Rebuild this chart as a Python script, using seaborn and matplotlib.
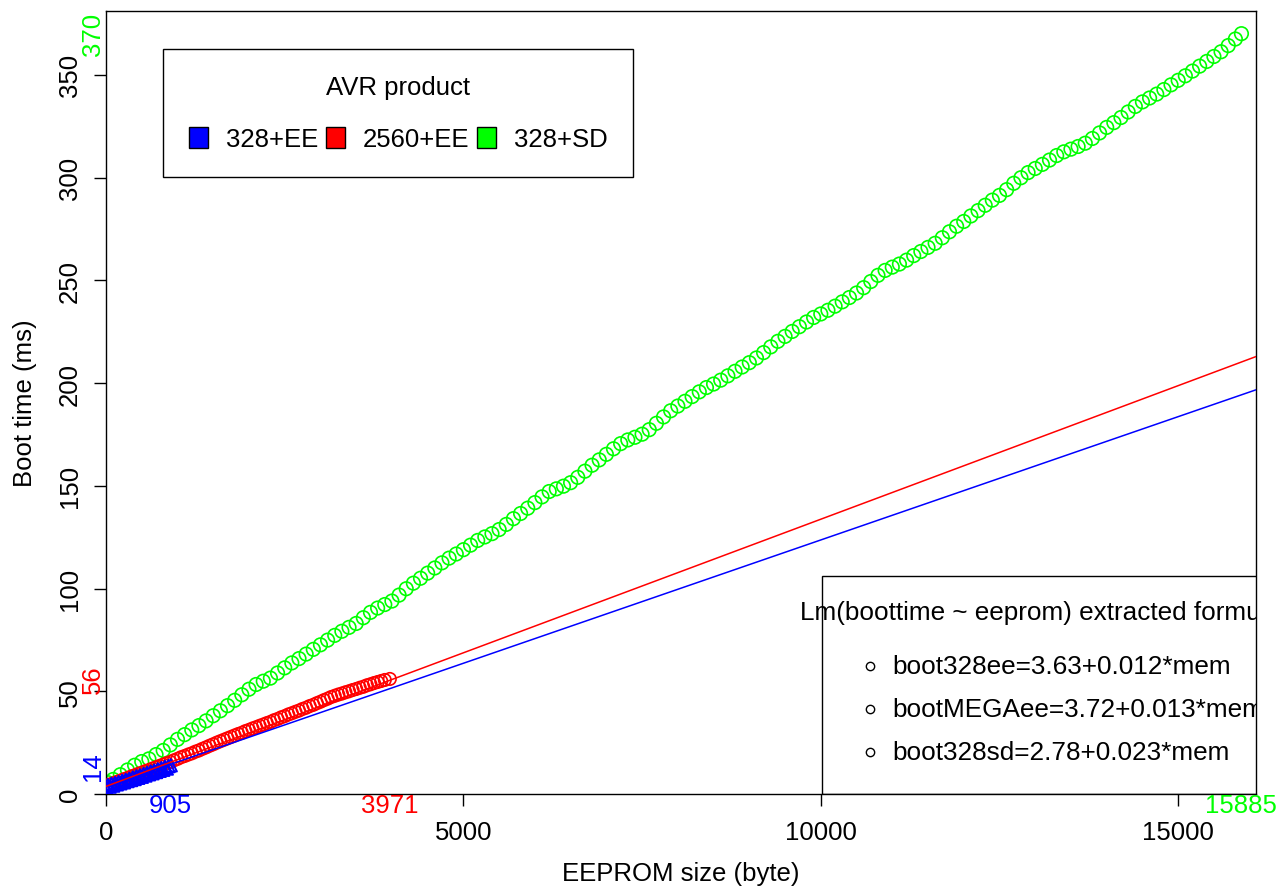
import numpy as np
import matplotlib
matplotlib.use("Agg")
import matplotlib.pyplot as plt
import matplotlib.patches as mpatches
import seaborn as sns

sns.set_style("white")
plt.rcParams["font.family"] = ["Liberation Sans", "DejaVu Sans"]
plt.rcParams["text.color"] = "black"
plt.rcParams["axes.labelcolor"] = "black"
plt.rcParams["xtick.color"] = "black"
plt.rcParams["ytick.color"] = "black"

green_x = [30] + list(range(100, 15900, 100))[:158] + [15885]
green_y = [5.5,
    7.1, 9.4, 11.7, 14.0, 15.8, 17.1, 19.2, 21.2, 23.9, 26.6,
    28.9, 31.2, 33.3, 35.6, 38.1, 40.5, 43.0, 45.6, 48.3, 51.0,
    53.3, 54.9, 56.4, 58.9, 61.4, 63.8, 65.9, 68.1, 70.4, 72.6,
    74.9, 77.2, 79.2, 81.1, 83.0, 85.8, 88.4, 90.5, 92.2, 93.9,
    96.8, 99.9, 102.6, 105.0, 107.5, 110.0, 112.5, 114.8, 116.8, 118.9,
    121.1, 123.4, 125.1, 126.7, 128.7, 131.2, 134.0, 136.5, 139.1, 141.8,
    144.6, 147.2, 148.5, 149.8, 151.5, 154.1, 157.1, 160.0, 162.6, 165.3,
    168.0, 170.5, 172.3, 173.6, 175.1, 177.3, 180.4, 183.5, 186.5, 188.8,
    191.1, 193.4, 195.7, 197.8, 199.5, 201.4, 203.5, 205.7, 207.8, 209.9,
    212.2, 214.8, 217.6, 220.3, 222.7, 225.1, 227.4, 229.7, 231.9, 233.6,
    235.4, 237.4, 239.5, 241.6, 243.8, 246.4, 249.4, 252.4, 254.8, 256.4,
    257.9, 259.8, 262.0, 264.0, 266.0, 268.0, 270.7, 273.6, 276.3, 278.6,
    281.3, 283.9, 286.5, 289.0, 291.3, 294.1, 297.2, 299.9, 302.4, 304.4,
    306.4, 308.5, 310.7, 312.5, 313.8, 315.1, 316.7, 319.0, 321.7, 324.4,
    326.7, 329.2, 331.9, 334.6, 336.8, 338.7, 340.6, 342.8, 345.1, 347.3,
    349.5, 351.8, 354.2, 356.5, 358.9, 361.2, 364.2, 367.4,
    370.0]

red_x = list(range(0, 3950, 50)) + [3971]
red_y = [3.9, 4.6, 5.2, 5.9, 6.5, 7.2, 7.8, 8.5, 9.1, 9.8,
    10.4, 11.1, 11.7, 12.4, 13.0, 13.7, 14.3, 15.0, 15.6, 16.4,
    17.1, 17.9, 18.5, 19.2, 19.8, 20.6, 21.2, 22.0, 22.7, 23.5,
    24.2, 25.0, 25.7, 26.4, 27.1, 27.8, 28.5, 29.2, 29.8, 30.6,
    31.2, 31.9, 32.5, 33.2, 33.8, 34.5, 35.1, 35.9, 36.5, 37.3,
    37.9, 38.7, 39.3, 40.0, 40.6, 41.4, 42.0, 42.8, 43.4, 44.2,
    44.9, 45.7, 46.4, 47.2, 47.8, 48.4, 48.9, 49.5, 50.0, 50.6,
    51.1, 51.7, 52.2, 52.9, 53.4, 54.0, 54.5, 55.0, 55.5,
    56.0]

blue_x = [0, 25, 50, 75, 100, 125, 150, 175, 200, 225, 250, 275, 300, 325,
    350, 375, 400, 425, 450, 475, 500, 525, 550, 575, 600, 625, 650, 675,
    700, 725, 750, 775, 800, 825, 850, 875, 905]
blue_y = [3.2, 4.3, 3.6, 4.9, 4.1, 5.3, 4.7, 5.8, 5.2, 6.4, 5.7, 6.9, 6.3,
    7.4, 6.8, 8.0, 7.3, 8.6, 7.9, 9.1, 8.4, 9.7, 9.0, 10.3, 9.6, 10.9, 10.1,
    11.4, 10.7, 12.0, 11.3, 12.6, 11.8, 13.2, 12.4, 13.6, 14.0]

# Fitted models from the formula legend: (name, intercept, slope).
fit_names = ["boot328ee", "bootMEGAee", "boot328sd"]
fit_intercepts = [3.63, 3.72, 2.78]
fit_slopes = [0.012, 0.013, 0.023]

products = ["328+EE", "2560+EE", "328+SD"]
colors = ["#0000FF", "#FF0000", "#00FF00"]

x_ticks = [0, 5000, 10000, 15000]
y_ticks = [0, 50, 100, 150, 200, 250, 300, 350]

fs = 18.5

fig = plt.figure(figsize=(12.85, 8.87), dpi=100)
ax = fig.add_axes([0.0825, 0.1037, 0.895, 0.8827])

sns.scatterplot(x=green_x, y=green_y, ax=ax, marker="o", s=95, fc="none",
                ec=colors[2], linewidth=1.2, zorder=2)
sns.scatterplot(x=red_x, y=red_y, ax=ax, marker="o", s=80, fc="none",
                ec=colors[1], linewidth=1.2, zorder=3)
sns.scatterplot(x=blue_x, y=blue_y, ax=ax, marker="^", s=80, fc="none",
                ec=colors[0], linewidth=1.4, zorder=4)

# Regression lines for the two EEPROM variants
for i in [0, 1]:
    ax.axline((0, fit_intercepts[i]), slope=fit_slopes[i], color=colors[i], lw=1.1, zorder=5)

ax.set_xlim(0, 16090)
ax.set_ylim(0, 381)
ax.set_xticks(x_ticks)
ax.set_xticklabels([str(t) for t in x_ticks], fontsize=fs)
ax.set_yticks(y_ticks)
ax.set_yticklabels([str(t) for t in y_ticks], fontsize=fs, rotation=90, va="center")
ax.tick_params(axis="both", direction="out", length=8.6, width=1, color="black",
               bottom=True, left=True)
ax.tick_params(axis="x", pad=10)
ax.tick_params(axis="y", pad=9)
for sp in ax.spines.values():
    sp.set_color("black")
    sp.set_linewidth(1)

ax.set_xlabel("EEPROM size (byte)", fontsize=fs)
ax.xaxis.set_label_coords(0.5, -0.0855)
ax.set_ylabel("Boot time (ms)", fontsize=fs)
ax.yaxis.set_label_coords(-0.06, 0.5)

# Max values of each series marked on the axes
series = [(blue_x, blue_y), (red_x, red_y), (green_x, green_y)]
for (sx, sy), c in zip(series, colors):
    ax.text(max(sx), -0.0135, str(int(round(max(sx)))), color=c, fontsize=fs,
            ha="center", va="center", transform=ax.get_xaxis_transform(), clip_on=False)
    ax.text(-0.0115, max(sy), str(int(round(max(sy)))), color=c, fontsize=fs,
            ha="center", va="center", rotation=90,
            transform=ax.get_yaxis_transform(), clip_on=False)

# Product legend
handles = [mpatches.Patch(fc=c, ec="black", lw=1, label=p) for c, p in zip(colors, products)]
leg = ax.legend(handles=handles, title="AVR product", ncol=3, fontsize=fs, title_fontsize=fs,
                bbox_to_anchor=(0.0496, 0.951), loc="upper left", borderaxespad=0,
                frameon=True, fancybox=False, edgecolor="black", framealpha=1,
                borderpad=1.0, labelspacing=1.08, handlelength=0.74, handleheight=0.86,
                handletextpad=0.7, columnspacing=0.3)
leg.get_frame().set_linewidth(1)

# Formula legend (runs past the plot border and is clipped there)
ax.add_patch(mpatches.Rectangle((0.6226, 0.0), 0.6, 0.2784, transform=ax.transAxes,
                                fill=False, ec="black", lw=1, clip_on=True, zorder=6))
ax.text(0.6035, 0.2324, "Lm(boottime ~ eeprom) extracted formula", fontsize=fs + 0.3,
        ha="left", va="center", transform=ax.transAxes, clip_on=True, zorder=6)
row_y = [0.1635, 0.1086, 0.0536]
for ry, name, b, m in zip(row_y, fit_names, fit_intercepts, fit_slopes):
    ax.plot([0.6643], [ry], marker="o", ms=6, mfc="none", mec="black", mew=1,
            transform=ax.transAxes, clip_on=True, zorder=6)
    ax.text(0.6835, ry, f"{name}={b}+{m}*mem", fontsize=fs + 0.3, ha="left", va="center",
            transform=ax.transAxes, clip_on=True, zorder=6)

fig.savefig("out.png", dpi=100)
